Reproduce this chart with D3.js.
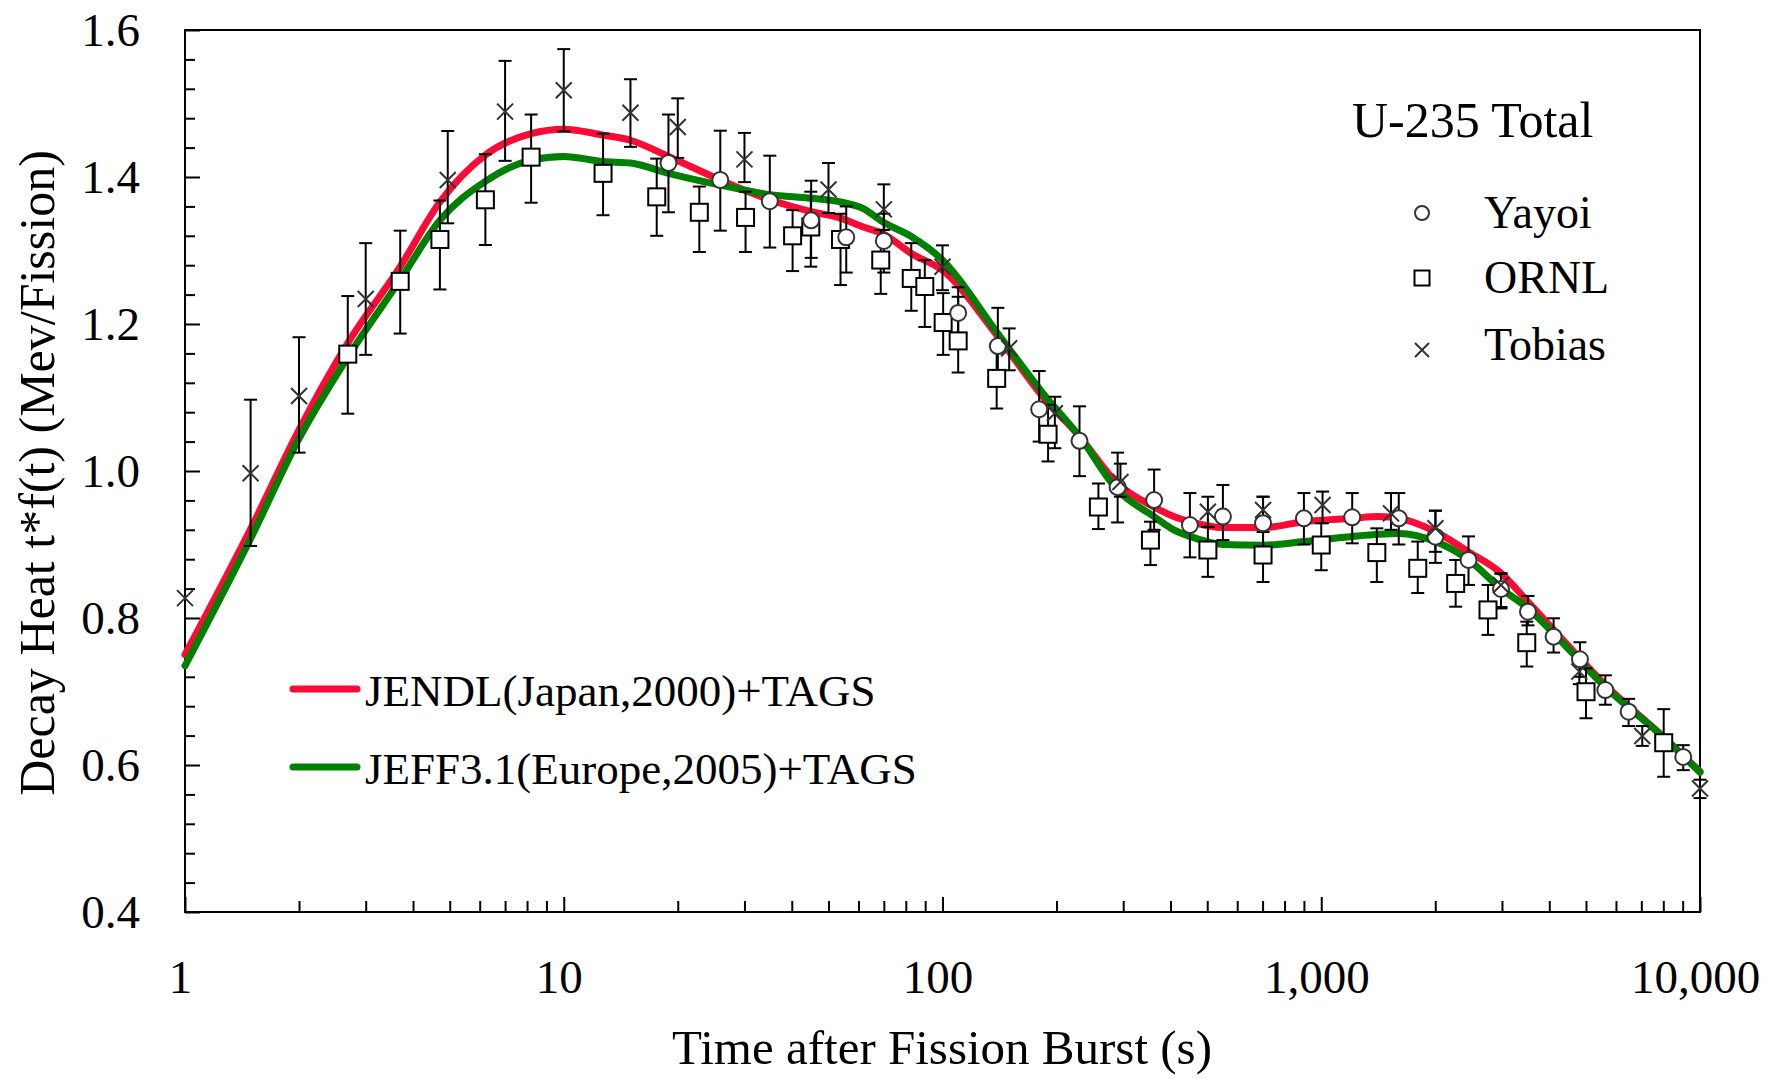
<!DOCTYPE html>
<html>
<head>
<meta charset="utf-8">
<script src="https://cdn.jsdelivr.net/npm/d3@7/dist/d3.min.js"></script>
<style>
  html, body { margin: 0; padding: 0; background: #fff; }
  svg { display: block; font-family: "Liberation Serif", "Times New Roman", serif; }
</style>
</head>
<body>
<svg id="chart" width="1776" height="1079"></svg>
<script>
// ---------------- data ----------------
const xTicksMajor = [1, 10, 100, 1000, 10000];
const xTickLabels = ["1", "10", "100", "1,000", "10,000"];
const yTicksMajor = [0.4, 0.6, 0.8, 1.0, 1.2, 1.4, 1.6];
const yTickLabels = ["0.4", "0.6", "0.8", "1.0", "1.2", "1.4", "1.6"];

// calculated curves
const curveT = [1, 1.5, 2, 2.69, 3.7, 4.71, 6.21, 8.2, 10, 12.7, 15, 18.9, 25.9, 35, 45, 53.8, 61.8, 69.5, 82.7, 100, 140, 184, 230, 290, 362, 408, 450, 550, 702, 900, 1207, 1417, 1602, 2002, 2448, 2982, 3514, 4106, 5624, 8000, 10000];
const jendl = [0.75, 0.924, 1.056, 1.174, 1.278, 1.366, 1.43, 1.459, 1.465, 1.457, 1.45, 1.428, 1.396, 1.369, 1.353, 1.344, 1.332, 1.323, 1.296, 1.273, 1.183, 1.101, 1.047, 0.983, 0.951, 0.938, 0.931, 0.923, 0.923, 0.931, 0.9356, 0.938, 0.9356, 0.9175, 0.890, 0.861, 0.822, 0.784, 0.709, 0.6385, 0.591];
const jeff = [0.735, 0.911, 1.044, 1.155, 1.26, 1.341, 1.394, 1.423, 1.428, 1.421, 1.419, 1.405, 1.389, 1.376, 1.371, 1.366, 1.357, 1.339, 1.319, 1.287, 1.187, 1.106, 1.047, 0.974, 0.938, 0.92, 0.911, 0.90, 0.899, 0.904, 0.911, 0.914, 0.915, 0.904, 0.879, 0.840, 0.813, 0.779, 0.706, 0.638, 0.59];

// measurements: [time, value, low, high]
const yayoi = [
  [18.9, 1.419, 1.352, 1.485], [25.9, 1.396, 1.327, 1.463], [35, 1.367, 1.304, 1.429],
  [45, 1.341, 1.29, 1.395], [55.7, 1.318, 1.27, 1.36], [70, 1.313, 1.27, 1.35],
  [110, 1.215, 1.18, 1.25], [140, 1.170, 1.12, 1.222], [180, 1.084, 1.04, 1.136],
  [230, 1.041, 0.993, 1.088], [290, 0.978, 0.93, 1.025], [362, 0.9605, 0.92, 1.002],
  [450, 0.9265, 0.8825, 0.97], [550, 0.938, 0.906, 0.981], [702, 0.929, 0.895, 0.965],
  [900, 0.9356, 0.90, 0.97], [1207, 0.937, 0.9016, 0.97], [1602, 0.9356, 0.90, 0.97],
  [2002, 0.9106, 0.875, 0.946], [2448, 0.879, 0.845, 0.911], [2982, 0.8395, 0.815, 0.86],
  [3514, 0.8086, 0.79, 0.83], [4106, 0.7746, 0.753, 0.7996], [4820, 0.7438, 0.72, 0.767],
  [5624, 0.702, 0.682, 0.722], [6480, 0.6725, 0.653, 0.69], [9030, 0.611, 0.593, 0.627]
];
const ornl = [
  [2.69, 1.159, 1.078, 1.238], [3.70, 1.258, 1.187, 1.327], [4.71, 1.315, 1.247, 1.368],
  [6.21, 1.369, 1.3075, 1.431], [8.2, 1.427, 1.365, 1.485], [12.7, 1.405, 1.348, 1.459],
  [17.6, 1.373, 1.32, 1.425], [22.8, 1.352, 1.298, 1.387], [30.2, 1.345, 1.298, 1.38],
  [40.2, 1.32, 1.272, 1.355], [44.9, 1.332, 1.278, 1.38], [53.8, 1.315, 1.253, 1.35],
  [68.7, 1.287, 1.241, 1.328], [82.7, 1.262, 1.218, 1.31], [89.8, 1.251, 1.196, 1.287],
  [100.4, 1.202, 1.158, 1.242], [110, 1.177, 1.134, 1.237], [139, 1.126, 1.085, 1.165],
  [190, 1.05, 1.013, 1.09], [258, 0.951, 0.921, 0.983], [354, 0.906, 0.872, 0.931],
  [502, 0.8925, 0.856, 0.924], [702, 0.8857, 0.849, 0.917], [1000, 0.8993, 0.865, 0.929],
  [1402, 0.889, 0.849, 0.922], [1798, 0.8676, 0.834, 0.904], [2264, 0.847, 0.8154, 0.879],
  [2756, 0.811, 0.777, 0.845], [3488, 0.7664, 0.734, 0.795], [5001, 0.6997, 0.6636, 0.7315],
  [8020, 0.6303, 0.584, 0.676]
];
const tobias = [
  [1, 0.827, null, null], [1.49, 0.997, 0.898, 1.097], [2, 1.102, 1.025, 1.182],
  [3, 1.234, 1.158, 1.31], [4.94, 1.396, 1.337, 1.4626], [7, 1.489, 1.422, 1.558],
  [10, 1.518, 1.462, 1.574], [15, 1.4875, 1.441, 1.533], [20, 1.468, 1.426, 1.507],
  [30, 1.424, 1.393, 1.46], [50, 1.383, 1.351, 1.419], [70, 1.356, 1.328, 1.39],
  [100, 1.278, 1.246, 1.307], [150, 1.167, 1.137, 1.194], [198, 1.0785, 1.031, 1.101],
  [295, 0.985, 0.965, 1.01], [502, 0.9446, 0.924, 0.965], [702, 0.947, 0.93, 0.965],
  [1008, 0.9537, 0.929, 0.972], [1528, 0.9424, 0.92, 0.97], [2002, 0.922, 0.89, 0.946],
  [2982, 0.845, 0.813, 0.861], [4801, 0.727, 0.71, 0.745], [7040, 0.6395, 0.626, 0.653],
  [10000, 0.568, 0.555, 0.58]
];

const seriesNames = ["JENDL(Japan,2000)+TAGS", "JEFF3.1(Europe,2005)+TAGS"];
const seriesColors = ["#ff0a36", "#008000"];
const markerNames = ["Yayoi", "ORNL", "Tobias"];

// ---------------- layout ----------------
const svg = d3.select("#chart");
const L = 185, R = 1700, T = 30, B = 912;
const x = d3.scaleLog().domain([1, 10000]).range([L, R]);
const y = d3.scaleLinear().domain([0.4, 1.6]).range([B, T]);

// minor ticks
const xMinor = [];
for (let d = 1; d < 10000; d *= 10) for (let k = 2; k <= 9; k++) xMinor.push(d * k);
const yMinor = d3.range(0.44, 1.6, 0.04).filter(v => Math.abs((v - 0.4) / 0.2 - Math.round((v - 0.4) / 0.2)) > 0.01);

const axisStyle = g => {
  g.select(".domain").remove();
  g.selectAll(".tick line").attr("stroke", "#000").attr("stroke-width", 2);
};

// x axis
svg.append("g").attr("transform", `translate(0,${B})`)
  .call(d3.axisBottom(x).tickValues(xMinor).tickSize(-11).tickFormat(""))
  .call(axisStyle);
const gx = svg.append("g").attr("transform", `translate(0,${B})`)
  .call(d3.axisBottom(x).tickValues(xTicksMajor).tickSize(-15).tickPadding(0)
    .tickFormat((d, i) => xTickLabels[i]))
  .call(axisStyle);
gx.selectAll(".tick text").attr("y", 81).attr("dy", 0).attr("dx", -5)
  .attr("fill", "#000").style("font-size", "47px").style("font-family", "Liberation Serif");

// y axis
svg.append("g").attr("transform", `translate(${L},0)`)
  .call(d3.axisLeft(y).tickValues(yMinor).tickSize(-10).tickFormat(""))
  .call(axisStyle);
const gy = svg.append("g").attr("transform", `translate(${L},0)`)
  .call(d3.axisLeft(y).tickValues(yTicksMajor).tickSize(-15).tickPadding(0)
    .tickFormat((d, i) => yTickLabels[i]))
  .call(axisStyle);
gy.selectAll(".tick text").attr("x", -45).attr("dy", "0.34em")
  .attr("fill", "#000").style("font-size", "47px").style("font-family", "Liberation Serif");

// frame
svg.append("rect").attr("x", L).attr("y", T).attr("width", R - L).attr("height", B - T)
  .attr("fill", "none").attr("stroke", "#000").attr("stroke-width", 2);

// axis titles
svg.append("text").attr("x", 942).attr("y", 1064).attr("text-anchor", "middle")
  .style("font-size", "49px").text("Time after Fission Burst (s)");
svg.append("text").attr("transform", "translate(54,473) rotate(-90)").attr("text-anchor", "middle")
  .style("font-size", "50px").text("Decay Heat t*f(t) (Mev/Fission)");

// curves
const line = d3.line().x(d => x(d[0])).y(d => y(d[1])).curve(d3.curveMonotoneX);
[jendl, jeff].forEach((vals, i) => {
  svg.append("path").datum(curveT.map((t, k) => [t, vals[k]]))
    .attr("d", line).attr("fill", "none").attr("stroke", seriesColors[i])
    .attr("stroke-width", 7).attr("stroke-linejoin", "round").attr("stroke-linecap", "round");
});

// error bars
const errG = svg.append("g").attr("stroke", "#000").attr("stroke-width", 2);
[ornl, yayoi, tobias].forEach(arr => {
  arr.filter(d => d[2] != null).forEach(d => {
    const cx = x(d[0]);
    errG.append("line").attr("x1", cx).attr("x2", cx).attr("y1", y(d[2])).attr("y2", y(d[3]));
    errG.append("line").attr("x1", cx - 6.5).attr("x2", cx + 6.5).attr("y1", y(d[2])).attr("y2", y(d[2]));
    errG.append("line").attr("x1", cx - 6.5).attr("x2", cx + 6.5).attr("y1", y(d[3])).attr("y2", y(d[3]));
  });
});

// markers
function drawSquare(g, cx, cy, s) {
  g.append("rect").attr("x", cx - s).attr("y", cy - s).attr("width", 2 * s).attr("height", 2 * s)
    .attr("fill", "#fff").attr("stroke", "#000").attr("stroke-width", 2);
}
function drawCircle(g, cx, cy, r) {
  g.append("circle").attr("cx", cx).attr("cy", cy).attr("r", r)
    .attr("fill", "#fff").attr("stroke", "#333").attr("stroke-width", 2);
}
function drawCross(g, cx, cy, s) {
  g.append("path").attr("d", `M${cx - s},${cy - s}L${cx + s},${cy + s}M${cx - s},${cy + s}L${cx + s},${cy - s}`)
    .attr("stroke", "#333").attr("stroke-width", 2).attr("fill", "none");
}
const mg = svg.append("g");
ornl.forEach(d => drawSquare(mg, x(d[0]), y(d[1]), 8.5));
yayoi.forEach(d => drawCircle(mg, x(d[0]), y(d[1]), 8));
tobias.forEach(d => drawCross(mg, x(d[0]), y(d[1]), 8));

// legend (markers)
svg.append("text").attr("x", 1352).attr("y", 137).style("font-size", "50px").text("U-235 Total");
const lg = svg.append("g");
drawCircle(lg, 1422, 213, 7);
drawSquare(lg, 1422, 278, 7.5);
drawCross(lg, 1422, 350, 7);
[228, 293, 360].forEach((yy, i) => {
  lg.append("text").attr("x", 1484).attr("y", yy).style("font-size", "46px").text(markerNames[i]);
});

// legend (lines)
[689, 767].forEach((yy, i) => {
  svg.append("line").attr("x1", 293).attr("x2", 357).attr("y1", yy).attr("y2", yy)
    .attr("stroke", seriesColors[i]).attr("stroke-width", 7).attr("stroke-linecap", "round");
  svg.append("text").attr("x", 365).attr("y", yy + 17).style("font-size", "45px").text(seriesNames[i]);
});
</script>
</body>
</html>
